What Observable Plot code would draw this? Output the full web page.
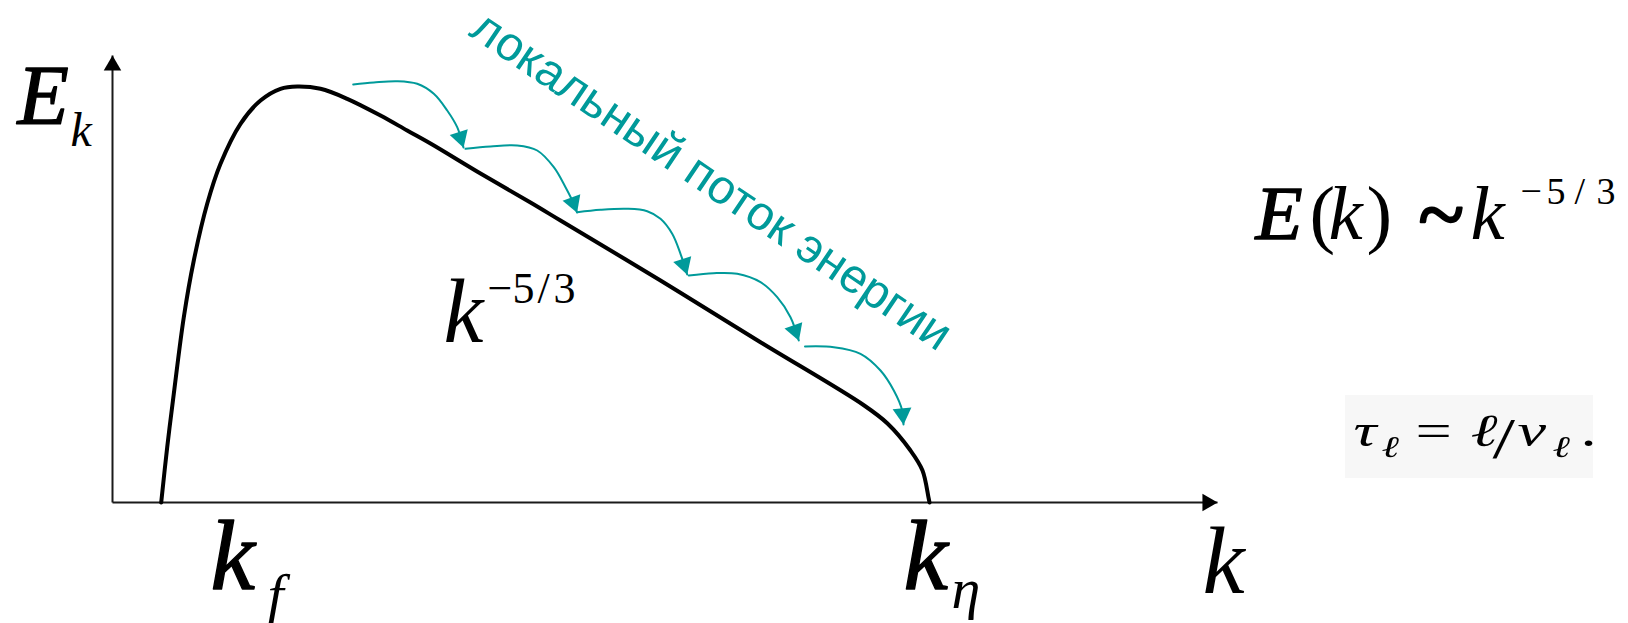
<!DOCTYPE html>
<html>
<head>
<meta charset="utf-8">
<script src="https://cdn.jsdelivr.net/npm/d3@7"></script>
<script src="https://cdn.jsdelivr.net/npm/@observablehq/plot@0.6"></script>
<style>
  html, body { margin: 0; padding: 0; background: #fff; }
  #chart svg { display: block; }
</style>
</head>
<body>
<div id="chart"></div>
<script>
// Kolmogorov energy spectrum sketch: wavenumber k (arbitrary units) vs E(k)
const spectrumK = [0.487, 0.547, 0.613, 0.713, 0.813, 0.947, 1.08, 1.28, 1.48, 1.68, 1.847, 2.08, 2.347, 2.68, 2.947, 3.18, 3.68, 4.18, 4.48, 5.48, 6.48, 7.51, 7.75, 7.98, 8.10, 8.16, 8.17];
const spectrumE = [0.00, 0.553, 1.087, 1.853, 2.42, 2.987, 3.387, 3.787, 4.02, 4.137, 4.16, 4.137, 4.037, 3.87, 3.72, 3.59, 3.29, 3.00, 2.82, 2.22, 1.603, 0.975, 0.79, 0.52, 0.32, 0.05, 0.00];

// Local energy flux: five hops down the cascade (arrow ends at the last point)
const fluxK = [
  [2.407, 2.613, 2.847, 3.047, 3.213, 3.347, 3.447, 3.51],
  [3.53, 3.78, 4.047, 4.247, 4.413, 4.53, 4.613, 4.645],
  [4.647, 4.88, 5.147, 5.347, 5.48, 5.597, 5.68, 5.747],
  [5.763, 6.01, 6.247, 6.48, 6.647, 6.78, 6.863],
  [6.925, 7.213, 7.48, 7.68, 7.813, 7.897, 7.91]
];
const fluxE = [
  [4.18, 4.20, 4.213, 4.187, 4.087, 3.92, 3.753, 3.55],
  [3.537, 3.56, 3.57, 3.52, 3.353, 3.153, 2.987, 2.90],
  [2.903, 2.927, 2.937, 2.913, 2.837, 2.687, 2.487, 2.28],
  [2.27, 2.293, 2.287, 2.203, 2.053, 1.853, 1.62],
  [1.56, 1.553, 1.487, 1.32, 1.12, 0.92, 0.78]
];

const fluxLabel = "локальный поток энергии";

// Frame
const W = 1628, H = 623;
const mL = 112, mR = 411, mT = 55, mB = 121;
const kMax = 11.05, eMax = 4.47;
const unitPx = (W - mL - mR) / kMax;        // same px per unit on both axes
const teal = "#009a9a";
const serif = "'Liberation Serif', 'Times New Roman', serif";

const spectrum = spectrumK.map((k, i) => ({k, E: spectrumE[i]}));
const fluxRows = fluxK.flatMap((ks, i) => ks.map((k, j) => ({arc: i, k, E: fluxE[i][j]})));

// Filled arrowheads: triangle centred behind the tip, pointing along the last segment
function head(tipK, tipE, dk, dE, lenPx) {
  const n = Math.hypot(dk, dE);
  const back = (lenPx * 2 / 3) / unitPx;
  return {k: tipK - dk / n * back, E: tipE - dE / n * back, angle: Math.atan2(dk, dE) * 180 / Math.PI};
}
const fluxHeads = fluxK.map((ks, i) => {
  const es = fluxE[i], n = ks.length;
  return head(ks[n - 1], es[n - 1], ks[n - 1] - ks[n - 2], es[n - 1] - es[n - 2], 16);
});
const axisLines = [
  {k1: 0, E1: 0, k2: kMax, E2: 0},
  {k1: 0, E1: 0, k2: 0, E2: eMax}
];
const axisHeads = [head(kMax, 0, 1, 0, 15), head(0, eMax, 0, 1, 15)];

// Formula glyphs (heavy ones get an outline to thicken the italic)
const heavy = [
  {t: "E", k: -0.95, E: 3.79, s: 84},
  {t: "k", k: 0.98, E: -0.86, s: 100},
  {t: "k", k: 7.91, E: -0.86, s: 100},
  {t: "E", k: 11.43, E: 2.64, s: 77}
];
const italic = [
  {t: "k", k: -0.42, E: 3.57, s: 48},
  {t: "f", k: 1.55, E: -1.11, s: 58},
  {t: "η", k: 8.39, E: -1.05, s: 58},
  {t: "k", k: 10.9, E: -0.90, s: 95},
  {t: "k", k: 3.31, E: 1.61, s: 90},
  {t: "k", k: 12.16, E: 2.64, s: 77},
  {t: "k", k: 13.58, E: 2.64, s: 77}
];
const upright = [
  {t: "(", k: 11.97, E: 2.64, s: 77},
  {t: ")", k: 12.54, E: 2.64, s: 77},
  {t: "−", k: 3.75, E: 2.00, s: 44},
  {t: "5", k: 4.00, E: 2.00, s: 44},
  {t: "/", k: 4.25, E: 2.00, s: 44},
  {t: "3", k: 4.41, E: 2.00, s: 44},
  {t: "−", k: 14.08, E: 2.99, s: 38},
  {t: "5", k: 14.34, E: 2.99, s: 38},
  {t: "/", k: 14.62, E: 2.99, s: 38},
  {t: "3", k: 14.84, E: 2.99, s: 38}
];
const tilde = [{t: "~", k: 13.06, E: 2.60, s: 84}];

// Eddy turnover time, set as a horizontally stretched inset
const tauBox = [{k1: 12.33, k2: 14.81, E1: 0.24, E2: 1.07}];
const tauStretch = 1.4, tauK0 = 12.41;
const tauItalic = [
  {t: "τ", k: 12.41, E: 0.57, s: 46},
  {t: "ℓ", k: 12.69, E: 0.46, s: 30},
  {t: "ℓ", k: 13.58, E: 0.57, s: 46},
  {t: "v", k: 14.05, E: 0.57, s: 46},
  {t: "ℓ", k: 14.40, E: 0.46, s: 30}
];
const tauUpright = [
  {t: "=", k: 13.03, E: 0.57, s: 46},
  {t: "/", k: 13.80, E: 0.45, s: 58},
  {t: ".", k: 14.68, E: 0.57, s: 46}
];
const unstretch = d => ({...d, k: tauK0 + (d.k - tauK0) / tauStretch});

const glyphs = (rows, style, extra = {}) => Plot.text(rows, {
  x: "k", y: "E", text: "t", fontSize: "s",
  textAnchor: "start", lineAnchor: "bottom",
  fontFamily: serif, fontStyle: style,
  fill: "#000", ...extra
});

const svg = Plot.plot({
  width: W, height: H,
  marginLeft: mL, marginRight: mR, marginTop: mT, marginBottom: mB,
  x: {domain: [0, kMax], axis: null},
  y: {domain: [0, eMax], axis: null},
  style: {background: "#fff"},
  marks: [
    Plot.rect(tauBox, {x1: "k1", x2: "k2", y1: "E1", y2: "E2", fill: "#f7f7f7"}),
    Plot.link(axisLines, {x1: "k1", y1: "E1", x2: "k2", y2: "E2", stroke: "#1a1a1a", strokeWidth: 2}),
    Plot.dot(axisHeads, {x: "k", y: "E", rotate: "angle", symbol: "triangle", r: 6.5, fill: "#000"}),
    Plot.line(spectrum, {x: "k", y: "E", curve: "catmull-rom", stroke: "#000", strokeWidth: 4}),
    Plot.line(fluxRows, {x: "k", y: "E", z: "arc", curve: "catmull-rom", stroke: teal, strokeWidth: 2}),
    Plot.dot(fluxHeads, {x: "k", y: "E", rotate: "angle", symbol: "triangle", r: 7, fill: teal}),
    Plot.text([{t: fluxLabel, k: 3.55, E: 4.68}], {
      x: "k", y: "E", text: "t", rotate: 34, textAnchor: "start", lineAnchor: "bottom",
      fontSize: 48, fontFamily: "'Liberation Sans', Arial, sans-serif", fill: teal
    }),
    glyphs(heavy, "italic", {stroke: "#000", strokeWidth: 1.4}),
    glyphs(italic, "italic"),
    glyphs(upright, "normal"),
    glyphs(tilde, "normal", {stroke: "#000", strokeWidth: 2.4}),
    glyphs(tauItalic.map(unstretch), "italic", {ariaDescription: "tau-eq"}),
    glyphs(tauUpright.map(unstretch), "normal", {ariaDescription: "tau-eq"})
  ]
});

// Widen the turnover-time inset around its left edge and soften it slightly
const x0 = mL + tauK0 * unitPx;
svg.querySelectorAll('g[aria-description="tau-eq"]').forEach(g => {
  const t = g.getAttribute("transform") || "";
  g.setAttribute("transform", `${t} translate(${x0},0) scale(${tauStretch},1) translate(${-x0},0)`);
  g.style.filter = "blur(0.5px)";
});

document.getElementById("chart").appendChild(svg);
</script>
</body>
</html>
